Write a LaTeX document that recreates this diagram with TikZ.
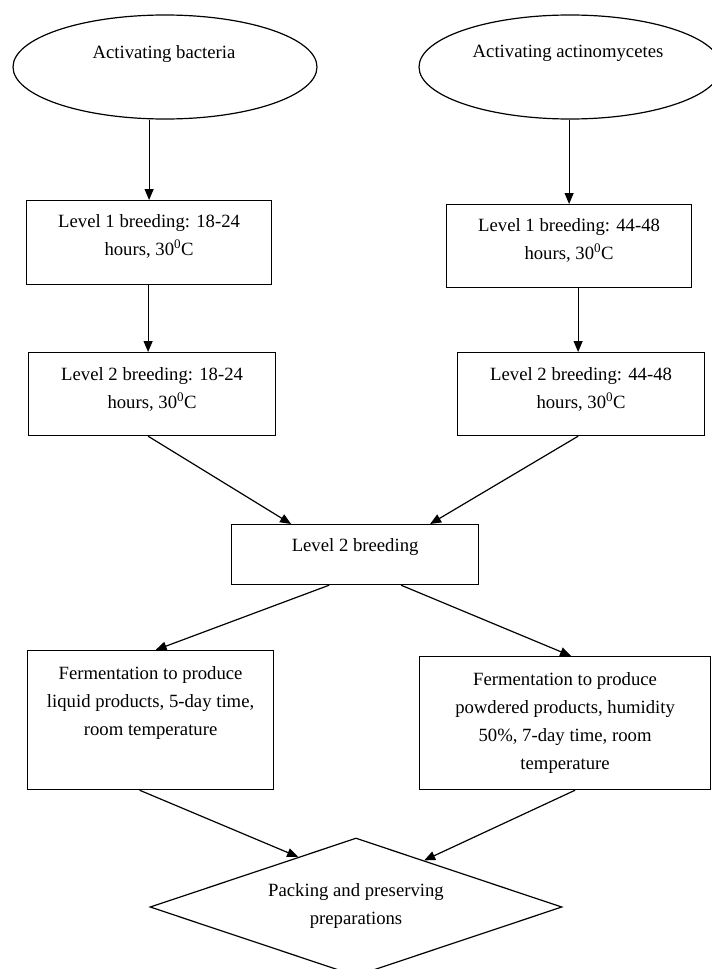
\documentclass[tikz,border=0pt]{standalone}
\usepackage{fontspec}
\setmainfont{Liberation Serif}
\usetikzlibrary{shapes.geometric,arrows.meta,calc}
\begin{document}
\begin{tikzpicture}[x=1pt,y=-1pt,
  shapebox/.style={draw, line width=1.2pt, rectangle, inner sep=0pt, anchor=north west},
  oval/.style={draw, line width=1.2pt, ellipse, inner sep=0pt},
  txt/.style={inner sep=0pt, anchor=north, align=center, font=\fontsize{18.7}{28}\selectfont},
  arr/.style={line width=1.2pt, -{Triangle[length=11pt,width=9pt]}}]
\useasboundingbox (0,0) rectangle (712,969);

% shapes
\node[oval, minimum width=304pt, minimum height=104pt] (e1) at (165,67) {};
\node[oval, minimum width=302pt, minimum height=104pt] (e2) at (570,67) {};
\node[shapebox, minimum width=245pt, minimum height=84pt] (l1) at (26,200) {};
\node[shapebox, minimum width=245pt, minimum height=83pt] (r1) at (446,204) {};
\node[shapebox, minimum width=247pt, minimum height=83pt] (l2) at (28,352) {};
\node[shapebox, minimum width=247pt, minimum height=83pt] (r2) at (457,352) {};
\node[shapebox, minimum width=247pt, minimum height=60pt] (c) at (231,524) {};
\node[shapebox, minimum width=246pt, minimum height=139pt] (l3) at (27,650) {};
\node[shapebox, minimum width=291pt, minimum height=133pt] (r3) at (419,656) {};
\node[draw, line width=1.2pt, diamond, inner sep=0pt, minimum width=412pt, minimum height=138pt] (d) at (356,907) {};

% texts
\node[txt] (e1t) at (164,45) {Activating bacteria};
\node[txt] (e2t) at (568,45) {Activating actinomycetes};
\node[txt] (l1t) at ([yshift=-14pt]l1.north) {Level 1 breeding: 18-24\\hours, 30\textsuperscript{0}C};
\node[txt] (r1t) at ([yshift=-14pt]r1.north) {Level 1 breeding: 44-48\\hours, 30\textsuperscript{0}C};
\node[txt] (l2t) at ([yshift=-15pt]l2.north) {Level 2 breeding: 18-24\\hours, 30\textsuperscript{0}C};
\node[txt] (r2t) at ([yshift=-15pt]r2.north) {Level 2 breeding: 44-48\\hours, 30\textsuperscript{0}C};
\node[txt] (ct) at ([yshift=-14pt]c.north) {Level 2 breeding};
\node[txt] (l3t) at ([yshift=-16pt]l3.north) {Fermentation to produce\\liquid products, 5-day time,\\room temperature};
\node[txt] (r3t) at ([yshift=-16pt]r3.north) {Fermentation to produce\\powdered products, humidity\\50\%, 7-day time, room\\temperature};
\node[txt] (dt) at (356,883) {Packing and preserving\\preparations};

% connectors
\draw[arr] (l1.north |- e1.south) -- (l1.north);
\draw[arr] (r1.north |- e2.south) -- (r1.north);
\draw[arr] ([xshift=-1pt]l1.south) -- ([xshift=-1pt]l1.south |- l2.north);
\draw[arr] ([xshift=9pt]r1.south) -- ([xshift=9pt]r1.south |- r2.north);
\draw[arr] ([xshift=-4pt]l2.south) -- ([xshift=-64pt]c.north);
\draw[arr] ([xshift=-3pt]r2.south) -- ([xshift=75pt]c.north);
\draw[arr] ([xshift=-26pt]c.south) -- ([xshift=5pt]l3.north);
\draw[arr] ([xshift=46pt]c.south) -- ([xshift=6pt]r3.north);
\draw[arr] ([xshift=-11pt]l3.south) -- ($(d.west)!0.72!(d.north)$);
\draw[arr] ([xshift=10pt]r3.south) -- ($(d.north)!0.33!(d.east)$);
\end{tikzpicture}
\end{document}
